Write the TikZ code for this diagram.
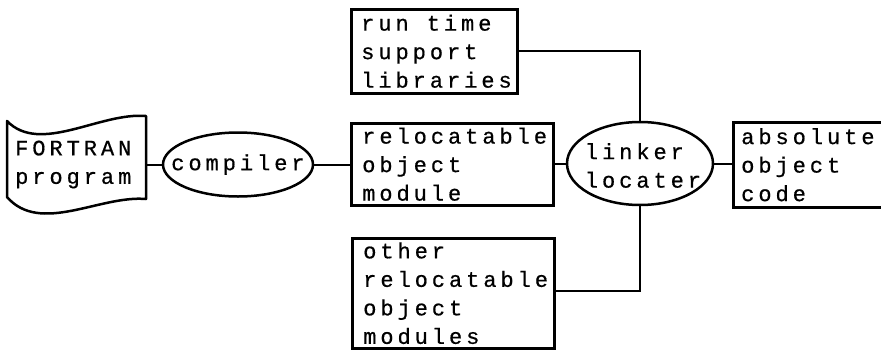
\documentclass[tikz,border=0pt]{standalone}
\usepackage{fontspec}
\usetikzlibrary{shapes.geometric}
\newfontfamily\tw[LetterSpace=18, FakeBold=0.6]{Liberation Mono}
\newcommand{\wsp}{\hspace*{18pt}}
\begin{document}
\begin{tikzpicture}[x=1pt,y=-1pt,
  tt/.style={font={\tw\fontsize{22pt}{28.5pt}\selectfont}},
  box/.style={draw, line width=2.5pt, rectangle, align=left, inner xsep=11pt, inner ysep=0pt, tt, anchor=north west},
  ell/.style={draw, line width=2.5pt, ellipse, inner sep=0pt},
  lab/.style={align=left, inner sep=0pt, tt},
  conn/.style={line width=2pt}]
\useasboundingbox (0,0) rectangle (881,351);
% FORTRAN program document
\node[inner sep=0pt, minimum width=139pt, minimum height=97pt, anchor=north west] (doc) at (7,116) {};
\draw[line width=2.5pt, line join=round] (7,121) .. controls (40,155) and (100,112) .. (146,116)
  -- (146,199) .. controls (100,195) and (40,235) .. (7,197) -- cycle;
\node[lab, anchor=west] (doctext) at (15,164.5) {FORTRAN\\program};
% compiler
\node[ell, minimum width=150pt, minimum height=64pt] (compiler) at (238,164.5) {};
\node[lab] (compilertext) at (compiler.center) {compiler};
% boxes
\node[box, inner xsep=10pt, text width=146pt, minimum height=84pt] (runtime) at (350,8) {run\wsp time\\support\\libraries};
\node[box, text width=180pt, minimum height=82pt] (reloc) at (350,122) {relocatable\\object\\module};
\node[box, text width=180pt, minimum height=110pt] (other) at (351,237) {other\\relocatable\\object\\modules};
% linker
\node[ell, minimum width=146pt, minimum height=83pt] (linker) at (640,163.5) {};
\node[lab] (linkertext) at (643,165.5) {linker\\locater};
% absolute
\node[box, inner xsep=8pt, text width=138pt, minimum height=85pt] (absolute) at (732,121) {absolute\\object\\code};
% connectors
\draw[conn] (doc.east |- compiler.west) -- (compiler.west);
\draw[conn] (compiler.east) -- (compiler.east -| reloc.west);
\draw[conn] (reloc.east |- linker.west) -- (linker.west);
\draw[conn] (runtime.east) -| (linker.north);
\draw[conn] ([yshift=2pt]other.east) -| (linker.south);
\draw[conn] (linker.east) -- (linker.east -| absolute.west);
\end{tikzpicture}
\end{document}
